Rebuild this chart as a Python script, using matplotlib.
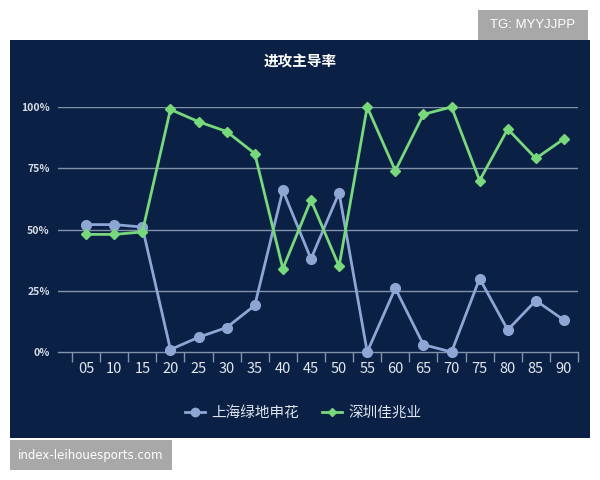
import matplotlib
matplotlib.use("Agg")
import matplotlib.pyplot as plt
from matplotlib.patches import Rectangle
from matplotlib.lines import Line2D

plt.rcParams['font.family'] = ['Noto Sans CJK SC', 'DejaVu Sans']

minutes = ["05", "10", "15", "20", "25", "30", "35", "40", "45", "50",
           "55", "60", "65", "70", "75", "80", "85", "90"]
shanghai = [52, 52, 51, 1, 6, 10, 19, 66, 38, 65, 0, 26, 3, 0, 30, 9, 21, 13]
shenzhen = [48, 48, 49, 99, 94, 90, 81, 34, 62, 35, 100, 74, 97, 100, 70, 91, 79, 87]
yticks = [0, 25, 50, 75, 100]
ytick_labels = ["0%", "25%", "50%", "75%", "100%"]
series_names = ["上海绿地申花", "深圳佳兆业"]
title = "进攻主导率"

W, H = 600, 480
fig = plt.figure(figsize=(6, 4.8), dpi=100, facecolor="white")

def fx(px):
    return px / W

def fy(py):
    return 1 - py / H

bg = "#0a2045"
fig.patches.append(Rectangle((fx(10), fy(438)), fx(590) - fx(10), fy(40) - fy(438),
                             transform=fig.transFigure, facecolor=bg, edgecolor="none", zorder=-5))

ax = fig.add_axes([fx(58), fy(352), fx(578) - fx(58), fy(107) - fy(352)])
ax.set_zorder(1)
ax.set_facecolor("none")
x = list(range(len(minutes)))
blue = "#8da6d3"
green = "#78d97c"
ax.plot(x, shanghai, color=blue, lw=2, marker="o", ms=7, clip_on=False, zorder=3)
ax.plot(x, shenzhen, color=green, lw=2, marker="D", ms=5, clip_on=False, zorder=4)

ax.set_xlim(-1.0, 17.5)
ax.set_ylim(0, 100)
grid_c = "#8393ab"
for yv in yticks[1:]:
    ax.axhline(yv, color=grid_c, lw=1, zorder=1)
for s in ["top", "right", "left"]:
    ax.spines[s].set_visible(False)
ax.spines["bottom"].set_color(grid_c)
ax.spines["bottom"].set_linewidth(1)

ax.set_yticks(yticks)
ax.set_yticklabels(ytick_labels, fontweight="bold")
ax.tick_params(axis="y", length=0, pad=6, labelsize=7.5, labelcolor="#d5dbe5")
ax.set_xticks(x)
ax.set_xticklabels(minutes)
ax.tick_params(axis="x", length=0, pad=7, labelsize=10.5, labelcolor="#e2e7ef")
ax.set_xticks([i - 0.5 for i in range(len(minutes) + 1)], minor=True)
ax.tick_params(axis="x", which="minor", length=7, color=grid_c, width=1, direction="out")

fig.text(0.5, fy(62), title, ha="center", va="center", color="white", fontsize=10.5, fontweight="bold")

handles = [Line2D([0], [0], color=blue, lw=2, marker="o", ms=6),
           Line2D([0], [0], color=green, lw=2, marker="D", ms=4)]
leg = fig.legend(handles, series_names, loc="center", bbox_to_anchor=(fx(303), fy(413)), ncol=2,
                 frameon=False, fontsize=10.5, handlelength=1.4, columnspacing=1.6, handletextpad=0.4)
for t in leg.get_texts():
    t.set_color("#dfe5ee")

# watermarks
fig.patches.append(Rectangle((fx(478), fy(40)), fx(588) - fx(478), fy(10) - fy(40),
                             transform=fig.transFigure, facecolor="#a8a8a8", edgecolor="none", zorder=5))
fig.text(fx(533), fy(25), "TG: MYYJJPP", ha="center", va="center", color="white", fontsize=9.5, zorder=6,
         family=["Liberation Sans", "DejaVu Sans"])
fig.patches.append(Rectangle((fx(10), fy(470)), fx(172) - fx(10), fy(440) - fy(470),
                             transform=fig.transFigure, facecolor="#a8a8a8", edgecolor="none", zorder=5))
fig.text(fx(91), fy(455), "index-leihouesports.com", ha="center", va="center", color="white", fontsize=8.5,
         zorder=6, family=["DejaVu Sans"])

fig.savefig("out.png", dpi=100, facecolor="white")
